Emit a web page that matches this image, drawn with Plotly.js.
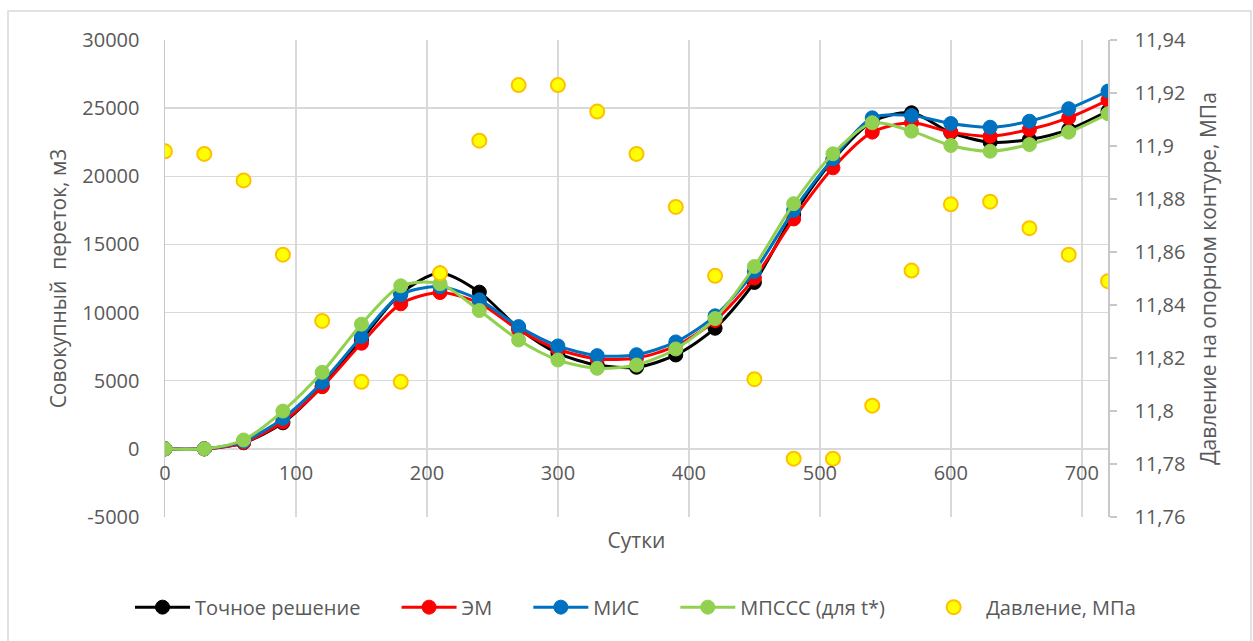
<!DOCTYPE html>
<html>
<head>
<meta charset="utf-8">
<script src="https://cdn.plot.ly/plotly-3.0.1.min.js"></script>
<style>
  html, body { margin: 0; padding: 0; background: #ffffff; }
  #chart { width: 1253px; height: 641px; }
</style>
</head>
<body>
<div id="chart"></div>
<script>
// Time, days
const days = [0, 30, 60, 90, 120, 150, 180, 210, 240, 270, 300, 330, 360,
              390, 420, 450, 480, 510, 540, 570, 600, 630, 660, 690, 720];

// Cumulative crossflow, m3
const exactSolution = [0, 0, 450, 1910, 4600, 8000, 11400, 12900, 11500, 8850, 7015, 6150, 5985,
                       6890, 8850, 12210, 17200, 21200, 24000, 24660, 23200, 22500, 22700, 23430, 24780];
const emValues      = [0, 0, 450, 1985, 4560, 7750, 10640, 11470, 10690, 8730, 7310, 6600, 6670,
                       7550, 9420, 12530, 16870, 20620, 23240, 23930, 23240, 22940, 23430, 24290, 25590];
const misValues     = [0, 0, 550, 2235, 4880, 8236, 11300, 11900, 10934, 8970, 7550, 6840, 6910,
                       7845, 9760, 13015, 17500, 21280, 24290, 24460, 23870, 23600, 24040, 24960, 26250];
const mpsssValues   = [0, 0, 650, 2770, 5617, 9147, 11963, 12110, 10150, 7990, 6520, 5910, 6150,
                       7330, 9560, 13380, 17990, 21650, 23930, 23310, 22260, 21840, 22330, 23240, 24590];

// Pressure on the reference contour, MPa
const pressure = [11.898, 11.897, 11.887, 11.859, 11.834, 11.811, 11.811, 11.852, 11.902, 11.923, 11.923, 11.913, 11.897,
                  11.877, 11.851, 11.812, 11.782, 11.782, 11.802, 11.853, 11.878, 11.879, 11.869, 11.859, 11.849];

const seriesNames = ['Точное решение', 'ЭМ', 'МИС', 'МПССС (для t*)', 'Давление, МПа'];

// Left axis tick labels (plain hyphen for the negative value)
const flowTickVals = [-5000, 0, 5000, 10000, 15000, 20000, 25000, 30000];
const flowTickText = ['-5000', '0', '5000', '10000', '15000', '20000', '25000', '30000'];

const FONT = 'Open Sans, Noto Sans, sans-serif';
const GREY_TEXT = '#595959';
const GRID = '#D9D9D9';
// extra room after each legend entry
const LEGEND_PAD = '\u00a0\u00a0\u00a0\u00a0\u00a0\u00a0';

function lineTrace(name, values, color) {
  return {
    type: 'scatter',
    mode: 'lines+markers',
    name: name + LEGEND_PAD,
    x: days,
    y: values,
    line: { color: color, width: 3, shape: 'spline', smoothing: 0.8 },
    marker: { color: color, size: 14, line: { color: color, width: 1 } },
    xaxis: 'x',
    yaxis: 'y'
  };
}

const traces = [
  lineTrace(seriesNames[0], exactSolution, '#000000'),
  lineTrace(seriesNames[1], emValues, '#FF0000'),
  lineTrace(seriesNames[2], misValues, '#0070C0'),
  lineTrace(seriesNames[3], mpsssValues, '#92D050'),
  {
    type: 'scatter',
    mode: 'markers',
    name: seriesNames[4],
    x: days,
    y: pressure,
    marker: { color: '#FFFF00', size: 14, line: { color: '#FFC000', width: 2 } },
    xaxis: 'x',
    yaxis: 'y2'
  }
];

const layout = {
  width: 1253,
  height: 641,
  margin: { l: 165, r: 145, t: 40, b: 124 },
  paper_bgcolor: '#ffffff',
  plot_bgcolor: '#ffffff',
  separators: ', ',
  font: { family: FONT, size: 20, color: GREY_TEXT },
  showlegend: true,
  legend: {
    orientation: 'h',
    x: (130 - 165) / 943, xanchor: 'left',
    y: -0.189, yanchor: 'middle',
    itemwidth: 55,
    font: { family: FONT, size: 20, color: GREY_TEXT },
    traceorder: 'normal'
  },
  xaxis: {
    range: [0, 720],
    dtick: 100,
    tick0: 0,
    showgrid: true,
    gridcolor: GRID,
    gridwidth: 1.5,
    zeroline: false,
    showline: false,
    anchor: 'free',
    position: 5000 / 35000,
    ticks: 'outside',
    ticklen: 6,
    tickcolor: 'rgba(0,0,0,0)',
    tickfont: { family: FONT, size: 20, color: GREY_TEXT },
    title: { text: 'Сутки', font: { family: FONT, size: 21, color: GREY_TEXT }, standoff: 48 }
  },
  yaxis: {
    range: [-5000, 30000],
    tickmode: 'array',
    tickvals: flowTickVals,
    ticktext: flowTickText,
    showgrid: true,
    gridcolor: GRID,
    gridwidth: 1.5,
    zeroline: false,
    showline: true,
    linecolor: '#C8C8C8',
    linewidth: 1.5,
    ticks: 'outside',
    ticklen: 20,
    tickcolor: 'rgba(0,0,0,0)',
    tickfont: { family: FONT, size: 20, color: GREY_TEXT },
    title: { text: 'Совокупный  переток, м3', font: { family: FONT, size: 21, color: GREY_TEXT }, standoff: 10 }
  },
  yaxis2: {
    overlaying: 'y',
    side: 'right',
    range: [11.76, 11.94],
    dtick: 0.02,
    tick0: 11.76,
    tickformat: '.4~g',
    showgrid: false,
    zeroline: false,
    showline: true,
    linecolor: '#C8C8C8',
    linewidth: 1.5,
    ticks: 'outside',
    ticklen: 7,
    tickwidth: 1.5,
    tickcolor: '#C8C8C8',
    ticklabelstandoff: 14,
    tickfont: { family: FONT, size: 20, color: GREY_TEXT },
    title: { text: 'Давление на опорном контуре, МПа', font: { family: FONT, size: 21, color: GREY_TEXT }, standoff: 16 }
  },
  shapes: [
    {
      type: 'rect', xref: 'paper', yref: 'paper', layer: 'below',
      x0: (8 - 165) / 943, x1: (1251 - 165) / 943,
      y0: (517 - 645) / 477, y1: (517 - 11) / 477,
      line: { color: '#D9D9D9', width: 1.5 },
      fillcolor: 'rgba(0,0,0,0)'
    }
  ]
};

Plotly.newPlot('chart', traces, layout, { staticPlot: true, displayModeBar: false });
</script>
</body>
</html>
